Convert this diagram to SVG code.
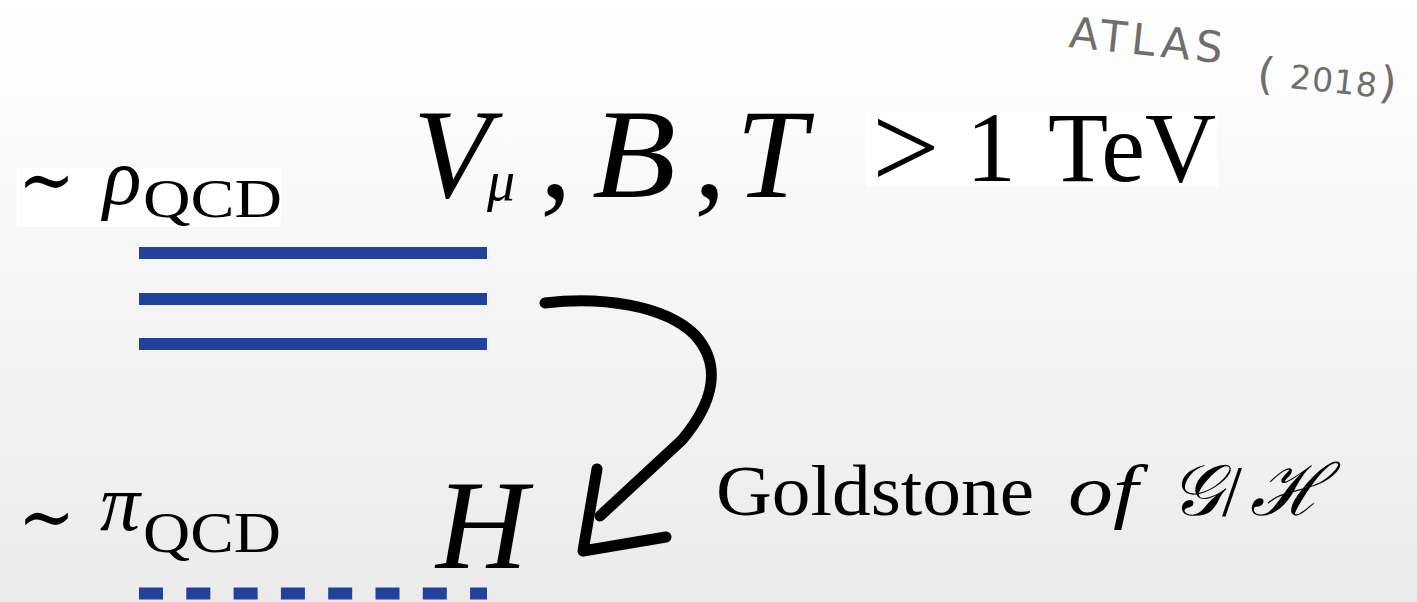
<svg xmlns="http://www.w3.org/2000/svg" width="1417" height="602" viewBox="0 0 1417 602">
<defs>
<linearGradient id="bg" x1="0" y1="0" x2="0" y2="1">
<stop offset="0" stop-color="#ffffff"/>
<stop offset="1" stop-color="#ebebeb"/>
</linearGradient>
<style>
.m{font-family:"Liberation Serif","DejaVu Serif",serif;fill:#000}
.i{font-style:italic}
.lvl{stroke:#22419a;stroke-width:12;fill:none}
.hand{font-family:"DejaVu Sans","Liberation Sans",sans-serif;font-weight:400;fill:#6e6e6e}
.arrow{stroke:#000;stroke-width:11;fill:none;stroke-linecap:round;stroke-linejoin:round}
</style>
</defs>
<rect x="0" y="0" width="1417" height="602" fill="url(#bg)"/>

<g id="atlas">
<text class="hand" font-size="43" letter-spacing="5" transform="translate(1068,47) rotate(6)">ATLAS</text>
<text class="hand" font-size="44" transform="translate(1256,88) rotate(6)">(</text>
<text class="hand" font-size="33" letter-spacing="1" transform="translate(1289,88) rotate(6)">2018</text>
<text class="hand" font-size="44" transform="translate(1378,97) rotate(6)">)</text>
</g>

<g id="rho-label">
<rect x="17" y="168" width="264" height="59" fill="#ffffff"/>
<text class="m" x="18" y="207" font-size="80" textLength="57" lengthAdjust="spacingAndGlyphs">∼</text>
<text class="m i" x="103" y="204" font-size="80">ρ</text>
<text class="m" x="143" y="217" font-size="54" textLength="139" lengthAdjust="spacingAndGlyphs">QCD</text>
</g>

<g id="heavy-states">
<rect x="866" y="112" width="352" height="75" fill="#ffffff"/>
<text class="m i" x="413" y="197" font-size="127">V</text>
<text class="m i" x="487" y="200" font-size="56">μ</text>
<text class="m" x="540" y="197" font-size="127">,</text>
<text class="m i" x="592" y="197" font-size="127" textLength="84" lengthAdjust="spacingAndGlyphs">B</text>
<text class="m" x="694" y="197" font-size="127">,</text>
<text class="m i" x="736" y="197" font-size="127">T</text>
<text class="m" x="872" y="188" font-size="120">&gt;</text>
<text class="m" x="966" y="181" font-size="100">1</text>
<text class="m" x="1048" y="181" font-size="100" textLength="168" lengthAdjust="spacingAndGlyphs">TeV</text>
</g>

<g id="resonance-levels">
<line class="lvl" x1="139" y1="253" x2="487" y2="253"/>
<line class="lvl" x1="139" y1="299" x2="487" y2="299"/>
<line class="lvl" x1="139" y1="344" x2="487" y2="344"/>
</g>

<g id="pi-label">
<text class="m" x="18" y="544" font-size="80" textLength="57" lengthAdjust="spacingAndGlyphs">∼</text>
<text class="m i" x="100" y="530" font-size="80">π</text>
<text class="m" x="143" y="552" font-size="56" textLength="138" lengthAdjust="spacingAndGlyphs">QCD</text>
</g>

<g id="higgs">
<text class="m i" x="436" y="568" font-size="127">H</text>
</g>

<g id="goldstone-level">
<line class="lvl" x1="139" y1="593.5" x2="487" y2="593.5" stroke-dasharray="24 23.3"/>
</g>

<g id="goldstone-label">
<text class="m" x="716" y="515" font-size="72" textLength="318" lengthAdjust="spacingAndGlyphs">Goldstone</text>
<text class="m i" x="1068" y="515" font-size="72" textLength="70" lengthAdjust="spacingAndGlyphs">of</text>
<text class="m i" x="1170" y="515" font-size="72">𝒢</text>
<text class="m" x="1222" y="515" font-size="72">/</text>
<text class="m i" x="1250" y="515" font-size="72">ℋ</text>
</g>

<g id="connectors">
<path class="arrow" d="M545,303 C600,296 665,305 695,335 C722,365 714,402 682,440 L600,516"/>
<path class="arrow" d="M597,469 L583,551 L666,537"/>
</g>
</svg>
